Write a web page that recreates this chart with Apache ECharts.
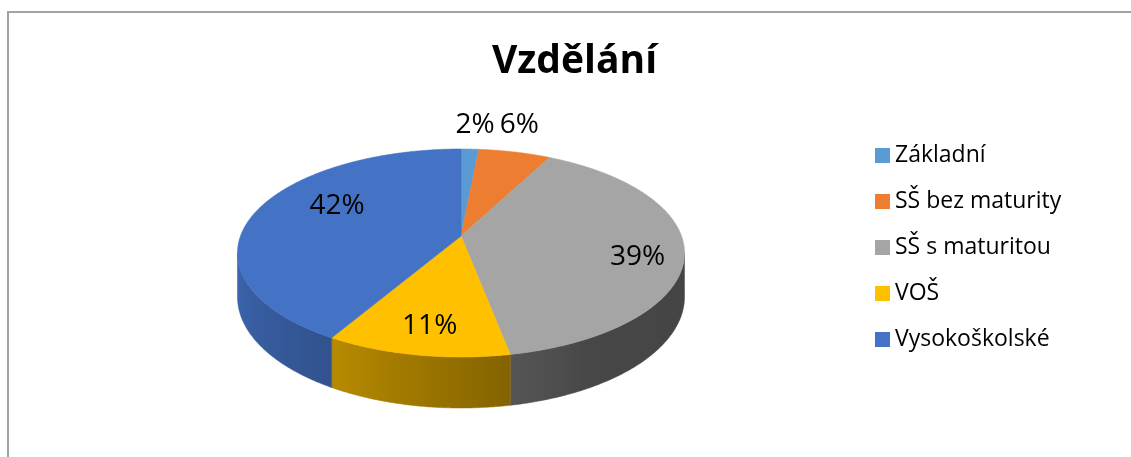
<!DOCTYPE html>
<html>
<head>
<meta charset="utf-8">
<script src="https://cdn.jsdelivr.net/npm/echarts@6/dist/echarts.min.js"></script>
<style>
html,body{margin:0;padding:0;background:#fff;}
#chart{width:1131px;height:457px;}
</style>
</head>
<body>
<div id="chart"></div>
<script>
// ---- data ----
const TITLE = 'Vzdělání';
const CATEGORIES = ['Základní', 'SŠ bez maturity', 'SŠ s maturitou', 'VOŠ', 'Vysokoškolské'];
const VALUES = [1.5, 6.1, 39.4, 11.4, 41.6];
const COLORS = ['#5B9BD5', '#ED7D31', '#A5A5A5', '#FFC000', '#4472C4'];
// label placement (radius fraction, angular nudge in degrees)
const LABEL_R = [1.34, 1.375, 0.8, 0.79, 0.67];
const LABEL_DA = [0.6, -2.8, 6, -0.7, 13];

// ---- 3D pie geometry (perspective projection of a tilted disc) ----
const CX = 461, CY = 236, A = 220.5, B = 101.2, K = 0.1635, H = 42.7;
const FONT = '"Open Sans", "Noto Sans", sans-serif';

const total = VALUES.reduce((s, v) => s + v, 0);
const cum = [0];
VALUES.forEach((v, i) => cum.push(cum[i] + v));

function proj(thetaDeg, r, h) {
  const t = thetaDeg * Math.PI / 180;
  const u = r * Math.sin(t), v = -r * Math.cos(t);
  const d = 1 - K * v;
  return [CX + A * u / d, CY + (B * v + h) / d];
}
function arc(a0, a1, r, h) {
  const pts = [];
  const n = Math.max(2, Math.ceil(Math.abs(a1 - a0) / 0.5));
  for (let i = 0; i <= n; i++) pts.push(proj(a0 + (a1 - a0) * i / n, r, h));
  return pts;
}
const VIS0 = Math.acos(-K) * 180 / Math.PI;
const VIS1 = 360 - VIS0;
function shadeFactor(th) {
  const pts = [[90, 0.41], [150, 0.43], [170, 0.52], [210, 0.72], [270, 0.93]];
  if (th <= pts[0][0]) return pts[0][1];
  for (let i = 1; i < pts.length; i++) {
    if (th <= pts[i][0]) {
      const [a0, f0] = pts[i - 1], [a1, f1] = pts[i];
      return f0 + (f1 - f0) * (th - a0) / (a1 - a0);
    }
  }
  return pts[pts.length - 1][1];
}
function shade(hex, f) {
  const n = parseInt(hex.slice(1), 16);
  const r = Math.round(((n >> 16) & 255) * f), g = Math.round(((n >> 8) & 255) * f), b = Math.round((n & 255) * f);
  return 'rgb(' + r + ',' + g + ',' + b + ')';
}

function makeRender(idx) {
  return function (params, api) {
    const a0 = cum[idx] / total * 360, a1 = cum[idx + 1] / total * 360;
    const color = COLORS[idx];
    const children = [];
    // side wall
    const s0 = Math.max(a0, VIS0), s1 = Math.min(a1, VIS1);
    if (s1 > s0) {
      const top = arc(s0, s1, 1, 0);
      const bot = arc(s1, s0, 1, H);
      const xs = top.map(p => p[0]);
      const xmin = Math.min.apply(null, xs), xmax = Math.max.apply(null, xs);
      const stops = [];
      const n = 12;
      for (let i = 0; i <= n; i++) {
        const th = s0 + (s1 - s0) * i / n;
        const x = proj(th, 1, 0)[0];
        stops.push({ offset: xmax > xmin ? (x - xmin) / (xmax - xmin) : 0, color: shade(color, shadeFactor(th)) });
      }
      stops.sort((p, q) => p.offset - q.offset);
      children.push({
        type: 'polygon',
        shape: { points: top.concat(bot) },
        style: {
          fill: { type: 'linear', x: xmin, y: 0, x2: xmax, y2: 0, global: true, colorStops: stops },
          stroke: shade(color, shadeFactor((s0 + s1) / 2)), lineWidth: 0.5
        }
      });
    }
    // top face
    const pts = [proj(0, 0, 0)].concat(arc(a0, a1, 1, 0));
    children.push({
      type: 'polygon',
      shape: { points: pts },
      style: { fill: color, stroke: color, lineWidth: 0.6 }
    });
    // label
    const mid = (a0 + a1) / 2 + LABEL_DA[idx];
    const lp = proj(mid, LABEL_R[idx], 0);
    children.push({
      type: 'text',
      z2: 100,
      style: {
        text: Math.round(VALUES[idx] / total * 100) + '%',
        x: lp[0], y: lp[1],
        font: '28px ' + FONT,
        fill: '#000',
        align: 'center', verticalAlign: 'middle',
        textAlign: 'center', textVerticalAlign: 'middle'
      }
    });
    return { type: 'group', children: children };
  };
}

const chart = echarts.init(document.getElementById('chart'), null, { renderer: 'canvas' });
const series = CATEGORIES.map((name, i) => ({
  type: 'custom',
  name: name,
  coordinateSystem: 'none',
  silent: true,
  animation: false,
  itemStyle: { color: COLORS[i] },
  data: [VALUES[i]],
  renderItem: makeRender(i)
}));

chart.setOption({
  animation: false,
  backgroundColor: '#fff',
  graphic: [
    {
      type: 'rect', silent: true, z: -10,
      shape: { x: 8, y: 12, width: 1300, height: 700 },
      style: { fill: 'none', stroke: '#a3a3a3', lineWidth: 2 }
    },
    {
      type: 'text', silent: true,
      style: {
        text: TITLE, x: 574.5, y: 62,
        font: 'bold 39px ' + FONT, fill: '#000',
        align: 'center', verticalAlign: 'middle',
        textAlign: 'center', textVerticalAlign: 'middle'
      }
    }
  ],
  legend: {
    data: CATEGORIES,
    orient: 'vertical',
    left: 875,
    top: 144,
    padding: 0,
    icon: 'rect',
    itemWidth: 15,
    itemHeight: 15,
    itemGap: 23,
    selectedMode: false,
    textStyle: { fontFamily: FONT, fontSize: 23, color: '#000', lineHeight: 20 }
  },
  series: series
});
</script>
</body>
</html>
